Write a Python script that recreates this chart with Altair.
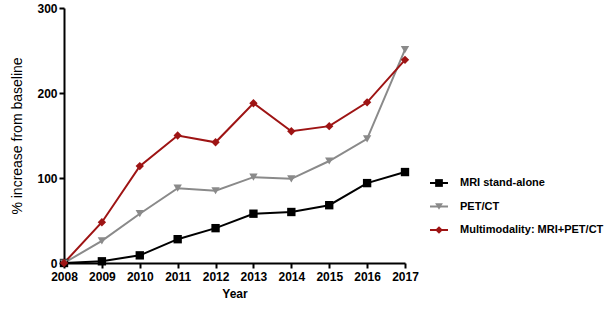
import altair as alt
import pandas as pd

years = [2008, 2009, 2010, 2011, 2012, 2013, 2014, 2015, 2016, 2017]
series_names = ["MRI stand-alone", "PET/CT", "Multimodality: MRI+PET/CT"]
mri = [0, 2, 9, 28, 41, 58, 60, 68, 94, 107]
petct = [0, 26, 58, 88, 85, 101, 99, 120, 146, 251]
multi = [0, 48, 114, 150, 142, 188, 155, 161, 189, 239]
colors = ["#000000", "#8a8a8a", "#9e1414"]
shapes = ["square", "triangle-down", "diamond"]

rows = []
for name, vals in zip(series_names, [mri, petct, multi]):
    for yr, v in zip(years, vals):
        rows.append({"Year": yr, "value": v, "series": name})
df = pd.DataFrame(rows)

font = "Liberation Sans"
color_scale = alt.Scale(domain=series_names, range=colors)
shape_scale = alt.Scale(domain=series_names, range=shapes)

x_enc = alt.X("Year:Q", scale=alt.Scale(domain=[2008, 2017], nice=False, zero=False),
              axis=alt.Axis(values=years, format="d", title="Year", grid=False,
                            labelFont=font, labelFontWeight="bold", labelFontSize=12,
                            labelColor="black", titleFont=font, titleFontWeight="bold",
                            titleFontSize=12, titleColor="black", domainColor="black",
                            domainWidth=2, tickColor="black", tickWidth=2, tickSize=5,
                            labelPadding=3, titlePadding=6, labelFlush=False,
                            labelOverlap=False))
y_enc = alt.Y("value:Q", scale=alt.Scale(domain=[0, 300], nice=False),
              axis=alt.Axis(values=[0, 100, 200, 300], title="% increase from baseline",
                            grid=False, labelFont=font, labelFontWeight="bold",
                            labelFontSize=12, labelColor="black", titleFont=font,
                            titleFontWeight="normal", titleFontSize=14, titleColor="black",
                            domainColor="black", domainWidth=2, tickColor="black",
                            tickWidth=2, tickSize=5, labelPadding=2, titlePadding=12))

base = alt.Chart(df)
lines = base.mark_line(strokeWidth=2).encode(
    x=x_enc, y=y_enc,
    color=alt.Color("series:N", scale=color_scale, legend=None),
    detail="series:N",
)
points = base.mark_point(filled=True, size=70, opacity=1).encode(
    x=x_enc, y=y_enc,
    color=alt.Color("series:N", scale=color_scale, legend=None),
    shape=alt.Shape("series:N", scale=shape_scale, legend=None),
)
main = alt.layer(lines, points)

leg_df = pd.DataFrame({"series": series_names, "idx": list(range(len(series_names)))})
leg_y = alt.Y("idx:Q", scale=alt.Scale(domain=[0, 2], range=[175, 222], zero=False, nice=False),
              axis=None)
leg_line = alt.Chart(leg_df).mark_rule(strokeWidth=2).encode(
    x=alt.value(366), x2=alt.value(384), y=leg_y,
    color=alt.Color("series:N", scale=color_scale, legend=None),
)
leg_pt = alt.Chart(leg_df).mark_point(filled=True, size=60, opacity=1).encode(
    x=alt.value(375), y=leg_y,
    color=alt.Color("series:N", scale=color_scale, legend=None),
    shape=alt.Shape("series:N", scale=shape_scale, legend=None),
)
leg_txt = alt.Chart(leg_df).mark_text(align="left", baseline="middle", font=font,
                                      fontWeight="bold", fontSize=11, color="black").encode(
    x=alt.value(396), y=leg_y, text="series:N",
)
legend = alt.layer(leg_line, leg_pt, leg_txt)

chart = alt.layer(main, legend).resolve_scale(y="independent").properties(
    width=341, height=255,
    autosize=alt.AutoSizeParams(type="none"),
    padding={"left": 64, "top": 8, "right": 203, "bottom": 49},
    background="white",
).configure_view(stroke=None)

chart.save("out.html", embed_options={"renderer": "svg", "actions": False})
